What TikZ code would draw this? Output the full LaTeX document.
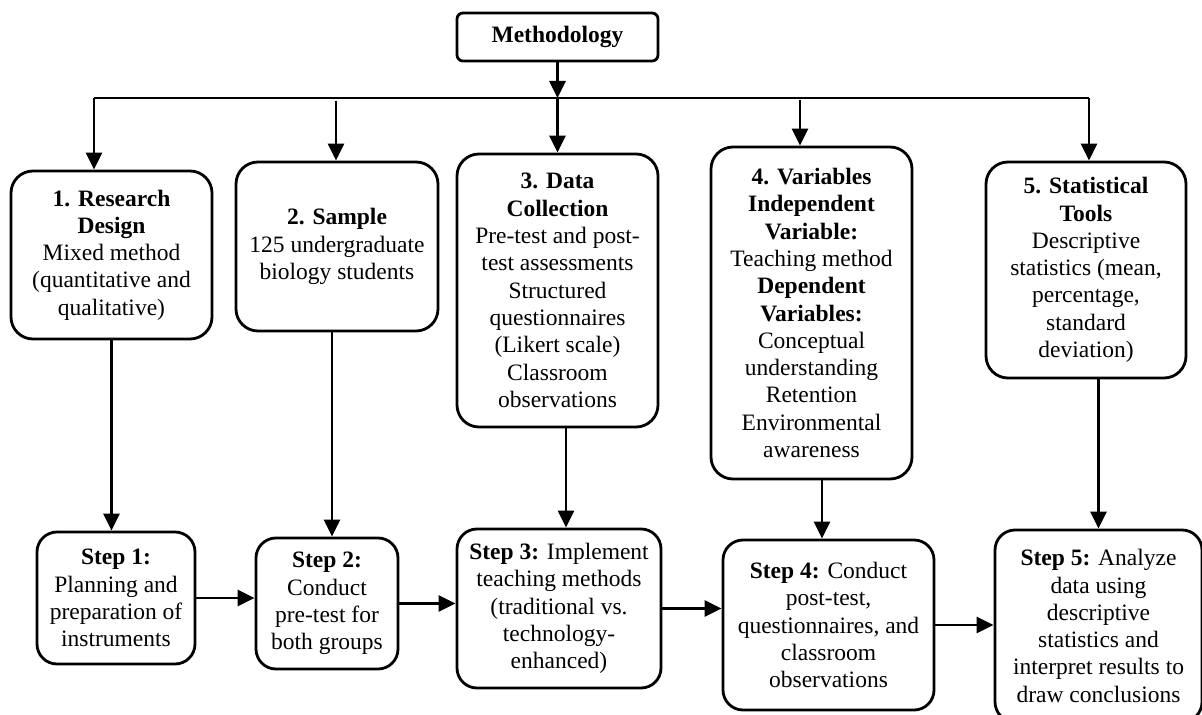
\documentclass[tikz,border=0pt]{standalone}
\usepackage{fontspec}
\setmainfont{Liberation Serif}
\usetikzlibrary{arrows.meta}

\begin{document}
\begin{tikzpicture}[x=0.5pt,y=-0.5pt,
			box/.style={draw,line width=1.4pt,rounded corners=11pt,align=center,inner sep=0pt},
			stepbox/.style={box,rounded corners=10pt},
			arr/.style={line width=1.4pt,-{Triangle[length=8.5pt,width=8pt]}}]
			\tikzstyle{every node}=[font=\fontsize{11.75}{13.65}\selectfont]
		\clip (0,0) rectangle (1202,715);

		\node[box,rounded corners=3pt,minimum width=100.5pt,minimum height=24pt] (meth) at (557.5,37) {\textbf{Methodology}};

		\node[box,minimum width=100.5pt,minimum height=84pt] (b1) at (111.5,255)
			{\textbf{1. Research}\\\textbf{Design}\\Mixed method\\(quantitative and\\qualitative)};
		\node[box,minimum width=101pt,minimum height=84.5pt] (b2) at (337,246.5)
			{\textbf{2. Sample}\\125 undergraduate\\biology students};
		\node[box,minimum width=100.5pt,minimum height=136.5pt] (b3) at (557.5,290.5)
			{\textbf{3. Data}\\\textbf{Collection}\\Pre-test and post-\\test assessments\\Structured\\questionnaires\\(Likert scale)\\Classroom\\observations};
		\node[box,minimum width=100.5pt,minimum height=166pt] (b4) at (811.5,313)
			{\textbf{4. Variables}\\\textbf{Independent}\\\textbf{Variable:}\\Teaching method\\\textbf{Dependent}\\\textbf{Variables:}\\Conceptual\\understanding\\Retention\\Environmental\\awareness};
		\node[box,minimum width=100pt,minimum height=108pt] (b5) at (1086,270)
			{\textbf{5. Statistical}\\\textbf{Tools}\\Descriptive\\statistics (mean,\\percentage,\\standard\\deviation)};

		\node[stepbox,minimum width=79pt,minimum height=66pt] (s1) at (116,598)
			{\textbf{Step 1:}\\Planning and\\preparation of\\instruments};
		\node[stepbox,minimum width=71pt,minimum height=65.5pt] (s2) at (327,603.5)
			{\textbf{Step 2:}\\Conduct\\pre-test for\\both groups};
		\node[stepbox,minimum width=102pt,minimum height=79.5pt] (s3) at (559,608.5)
			{\textbf{Step 3:} Implement\\teaching methods\\(traditional vs.\\technology-\\enhanced)};
		\node[stepbox,minimum width=105.5pt,minimum height=85pt] (s4) at (828.5,625)
			{\textbf{Step 4:} Conduct\\post-test,\\questionnaires, and\\classroom\\observations};
		\node[stepbox,minimum width=103.5pt,minimum height=96pt] (s5) at (1098.5,626)
			{\textbf{Step 5:} Analyze\\data using\\descriptive\\statistics and\\interpret results to\\draw conclusions};

		\coordinate (jl) at (94,98);
		\coordinate (jr) at (1089,98);
		\coordinate (c2) at (336,101);
		\coordinate (c4) at (800,100);

		\draw[arr] (meth.south) -- (meth.south |- jl);
		\draw[line width=1.4pt] (jl) -- (jr);
		\draw[arr] (jl) -- (jl |- b1.north);
		\draw[arr] (c2) -- (c2 |- b2.north);
		\draw[arr] (meth.south |- jl) -- (meth.south |- b3.north);
		\draw[arr] (c4) -- (c4 |- b4.north);
		\draw[arr] (jr) -- (jr |- b5.north);

		\draw[arr] (b1.south) -- (b1.south |- s1.north);
		\draw[arr] ([xshift=-2.5pt]b2.south) -- ([xshift=-2.5pt]b2.south |- s2.north);
		\draw[arr] ([xshift=4.25pt]b3.south) -- ([xshift=4.25pt]b3.south |- s3.north);
		\draw[arr] ([xshift=5.25pt]b4.south) -- ([xshift=5.25pt]b4.south |- s4.north);
		\draw[arr] (s5.north |- b5.south) -- (s5.north);

		\draw[arr] (s1.east) -- (s1.east -| s2.west);
		\draw[arr] (s2.east) -- (s2.east -| s3.west);
		\draw[arr] (s3.east) -- (s3.east -| s4.west);
		\draw[arr] (s4.east) -- (s4.east -| s5.west);

	  	\end{tikzpicture}
\end{document}
